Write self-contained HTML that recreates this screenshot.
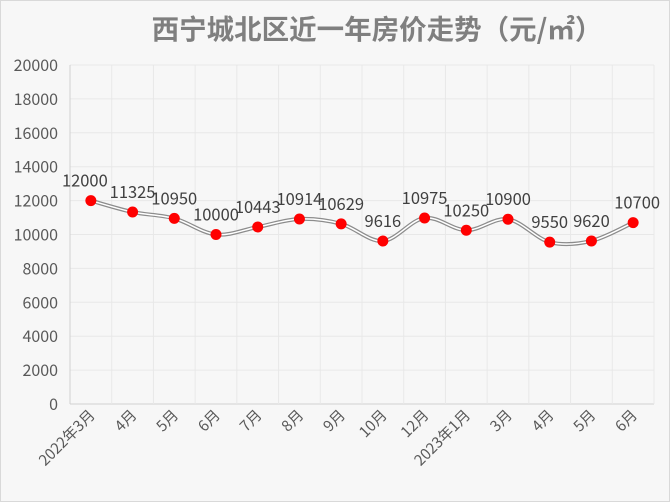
<!DOCTYPE html>
<html><head><meta charset="utf-8"><style>
body{margin:0;background:#fff}
svg{display:block;font-family:"Noto Sans CJK SC","Liberation Sans",sans-serif}
</style></head><body>
<svg id="c" width="670" height="502">
<rect x="0.5" y="0.5" width="669" height="501" fill="#f7f7f7" stroke="#d9d9d9"/>
<text x="377" y="39" text-anchor="middle" font-size="27.5" font-weight="bold" fill="#7f7f7f">西宁城北区近一年房价走势（元/㎡）</text>
<g id="g"></g>
</svg>
<script>
const categories=["2022年3月","4月","5月","6月","7月","8月","9月","10月","12月","2023年1月","3月","4月","5月","6月"];
const values=[12000,11325,10950,10000,10443,10914,10629,9616,10975,10250,10900,9550,9620,10700];
const yTicks=[0,2000,4000,6000,8000,10000,12000,14000,16000,18000,20000];
const NS="http://www.w3.org/2000/svg";
const g=document.getElementById('g');
const L=70,R=654,T=65,B=404,yMax=20000;
const bw=(R-L)/categories.length;
const x=i=>L+bw*(i+0.5);
const y=v=>B-(v/yMax)*(B-T);
function mk(t,a){const e=document.createElementNS(NS,t);for(const k in a)e.setAttribute(k,a[k]);g.appendChild(e);return e;}
yTicks.forEach(v=>{
 const l=mk('line',{x1:L,x2:R,y1:y(v),y2:y(v),stroke:v?'#e8e8e8':'#d0d0d0'});
 
 
 const t=mk('text',{x:L-12,y:y(v)+6,'text-anchor':'end','font-size':16,fill:'#595959'});t.textContent=v;
 
 
});
for(let i=0;i<=categories.length;i++){
 const l=mk('line',{x1:L+bw*i,x2:L+bw*i,y1:T,y2:B,stroke:i?'#e8e8e8':'#d0d0d0'});
 
 
}
categories.forEach((c,i)=>{
 const t=mk('text',{x:x(i)+5,y:416,'text-anchor':'end','font-size':15,fill:'#595959',transform:`rotate(-45 ${x(i)+5} 416)`});
 t.textContent=c;
 
 
});
const P=values.map((v,i)=>[x(i),y(v)]);
let d=`M${P[0][0]},${P[0][1]}`;
for(let i=0;i<P.length-1;i++){
 const p0=P[i-1]||P[i],p1=P[i],p2=P[i+1],p3=P[i+2]||p2,k=6;
 d+=` C${p1[0]+(p2[0]-p0[0])/k},${p1[1]+(p2[1]-p0[1])/k} ${p2[0]-(p3[0]-p1[0])/k},${p2[1]-(p3[1]-p1[1])/k} ${p2[0]},${p2[1]}`;
}
const l1=mk('path',{d,fill:'none',stroke:'#8c8c8c','stroke-width':4});


const l2=mk('path',{d,fill:'none',stroke:'#ffffff','stroke-width':1.5});


P.forEach((p,i)=>{
 const c=mk('circle',{cx:p[0],cy:p[1],r:5.5,fill:'#ff0000'});
 
 
 const t=mk('text',{x:p[0]-(i==0?6:0)+(i==values.length-1?4:0),y:p[1]-14,'text-anchor':'middle','font-size':16.5,fill:'#404040'});
 t.textContent=values[i];
 
 
});
</script>
</body></html>
